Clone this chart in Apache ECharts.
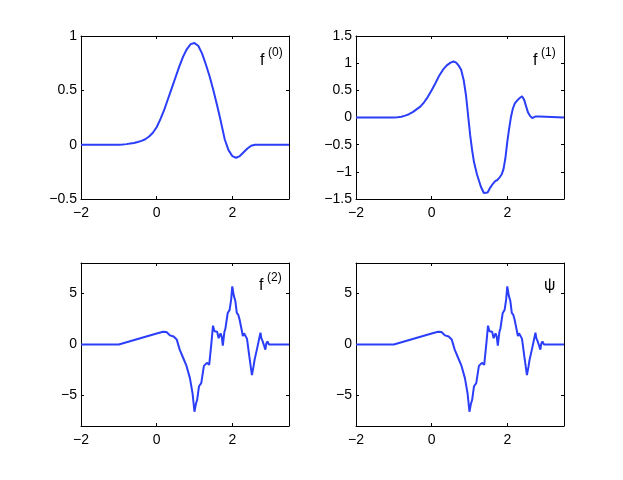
<!DOCTYPE html>
<html>
<head>
<meta charset="utf-8">
<title>f(0), f(1), f(2), psi</title>
<script src="https://cdn.jsdelivr.net/npm/echarts@6/dist/echarts.min.js"></script>
<style>
  html, body { margin: 0; padding: 0; background: #fff; }
  #chart { width: 623px; height: 480px; }
</style>
</head>
<body>
<div id="chart"></div>
<script>
// tick values of every panel
const xTicks = [-2, 0, 2]
const f0Ticks = [-0.5, 0, 0.5, 1]
const f1Ticks = [-1.5, -1, -0.5, 0, 0.5, 1, 1.5]
const f2Ticks = [-5, 0, 5]

// f(0): sampled every 0.1 from -2 to 3.5
const f0X = [
  -2.0, -1.9, -1.8, -1.7, -1.6, -1.5, -1.4, -1.3, -1.2, -1.1, -1.0,
  -0.9, -0.8, -0.7, -0.6, -0.5, -0.4, -0.3, -0.2, -0.1, 0.0,
  0.1, 0.2, 0.3, 0.4, 0.5, 0.6, 0.7, 0.8, 0.9, 1.0,
  1.1, 1.2, 1.3, 1.4, 1.5, 1.6, 1.7, 1.8, 1.9, 2.0,
  2.1, 2.2, 2.3, 2.4, 2.5, 2.6, 2.7, 2.8, 2.9, 3.0,
  3.1, 3.2, 3.3, 3.4, 3.5
]
const f0Y = [
  0, 0, 0, 0, 0, 0, 0, 0, 0, 0, 0,
  0.002, 0.005, 0.01, 0.016, 0.025, 0.035, 0.05, 0.075, 0.11, 0.16,
  0.235, 0.32, 0.42, 0.52, 0.62, 0.72, 0.81, 0.88, 0.925, 0.935,
  0.91, 0.84, 0.74, 0.63, 0.5, 0.36, 0.21, 0.05, -0.05, -0.105,
  -0.12, -0.105, -0.07, -0.035, -0.01, 0, 0, 0, 0, 0,
  0, 0, 0, 0, 0
]

// f(1)
const f1X = [
  -2.0, -1.0, -0.9, -0.8, -0.7, -0.6, -0.5, -0.4, -0.3, -0.2, -0.1, 0.0,
  0.1, 0.2, 0.3, 0.4, 0.5, 0.58, 0.65, 0.72, 0.78, 0.85, 0.91, 0.97,
  1.02, 1.07, 1.12, 1.2, 1.3, 1.38, 1.43, 1.48, 1.55, 1.62, 1.68, 1.74,
  1.8, 1.85, 1.9, 1.95, 2.0, 2.05, 2.1, 2.15, 2.2, 2.27, 2.33, 2.39,
  2.45, 2.5, 2.55, 2.6, 2.66, 2.7, 2.75, 2.8, 2.85, 2.9, 3.5
]
const f1Y = [
  0, 0, 0.005, 0.015, 0.035, 0.06, 0.1, 0.15, 0.2, 0.28, 0.38, 0.5,
  0.63, 0.77, 0.88, 0.96, 1.01, 1.03, 1.01, 0.95, 0.88, 0.68, 0.4, 0.0,
  -0.33, -0.6, -0.82, -1.05, -1.27, -1.39, -1.42, -1.38, -1.29, -1.22, -1.17, -1.15,
  -1.1, -1.05, -0.95, -0.75, -0.45, -0.2, 0.02, 0.17, 0.26, 0.32, 0.36, 0.39,
  0.32, 0.2, 0.09, 0.03, -0.01, -0.01, 0.02, 0.03, 0.02, 0, 0
]

// f(2); the psi panel shows the same curve
const f2X = [
  -2.0, -1.0, -0.5, 0.0, 0.17, 0.26, 0.35, 0.45, 0.53, 0.61, 0.7, 0.79,
  0.88, 0.95, 1.0, 1.04, 1.07, 1.12, 1.15, 1.18, 1.25, 1.29, 1.33, 1.36,
  1.39, 1.45, 1.49, 1.53, 1.56, 1.6, 1.64, 1.69, 1.72, 1.75, 1.79, 1.82,
  1.86, 1.88, 1.93, 1.97, 2.0, 2.04, 2.08, 2.12, 2.16, 2.19, 2.24, 2.28,
  2.31, 2.34, 2.39, 2.45, 2.52, 2.56, 2.59, 2.65, 2.69, 2.745, 2.77, 2.8,
  2.84, 2.875, 2.9, 2.93, 2.97, 3.5
]
const f2Y = [
  0, 0, 0.54, 1.08, 1.25, 1.22, 0.9, 0.78, 0.5, -0.5, -1.3, -2.1,
  -3.3, -4.8, -6.6, -5.8, -5.45, -4.1, -4.0, -3.8, -2.1, -2.2, -1.8, -1.7,
  -2.0, 0.2, 1.85, 1.3, 1.15, 1.25, 0.62, 1.1, 0.8, -0.1, 1.2, 1.6,
  2.6, 3.1, 3.4, 4.4, 5.7, 4.8, 4.3, 3.1, 2.9, 2.5, 1.6, 0.83,
  1.1, 0.9, 0.55, -1.15, -3.0, -2.2, -1.5, -0.5, -0.6, 1.15, 0.6, 0.35,
  -0.1, -0.5, 0.1, 0.3, 0, 0
]

const fontFamily = '"Liberation Sans", Arial, Helvetica, sans-serif'
const lineColor = '#2b3ef8'

// panel boxes (pixels) as a MATLAB 2x2 subplot
const panels = [
  { left: 81, top: 36, yMin: -0.5, yMax: 1, yTicks: f0Ticks, xs: f0X, ys: f0Y },
  { left: 356, top: 36, yMin: -1.5, yMax: 1.5, yTicks: f1Ticks, xs: f1X, ys: f1Y },
  { left: 81, top: 263, yMin: -8, yMax: 8, yTicks: f2Ticks, xs: f2X, ys: f2Y },
  { left: 356, top: 263, yMin: -8, yMax: 8, yTicks: f2Ticks, xs: f2X, ys: f2Y }
]

const fmt = v => String(v).replace('-', '\u2212')

const axisBase = (ticks, labelShow) => ({
  type: 'value',
  axisLine: { onZero: false, lineStyle: { color: '#000', width: 1 } },
  axisTick: { inside: true, length: 3, customValues: ticks, lineStyle: { color: '#000' } },
  axisLabel: {
    show: labelShow,
    customValues: ticks,
    formatter: fmt,
    color: '#000',
    fontSize: 14,
    fontFamily: fontFamily
  },
  splitLine: { show: false }
})

const grid = []
const xAxis = []
const yAxis = []
const series = []

panels.forEach((p, i) => {
  grid.push({ left: p.left, top: p.top, width: 208, height: 163 })
  xAxis.push(Object.assign(axisBase(xTicks, true), { gridIndex: i, position: 'bottom', min: -2, max: 3.5 }))
  xAxis[xAxis.length - 1].axisLabel.margin = 7
  xAxis.push(Object.assign(axisBase(xTicks, false), { gridIndex: i, position: 'top', min: -2, max: 3.5 }))
  yAxis.push(Object.assign(axisBase(p.yTicks, true), { gridIndex: i, position: 'left', min: p.yMin, max: p.yMax }))
  yAxis[yAxis.length - 1].axisLabel.margin = 4
  yAxis.push(Object.assign(axisBase(p.yTicks, false), { gridIndex: i, position: 'right', min: p.yMin, max: p.yMax }))
  series.push({
    type: 'line',
    xAxisIndex: i * 2,
    yAxisIndex: i * 2,
    data: p.xs.map((x, k) => [x, p.ys[k]]),
    showSymbol: false,
    lineStyle: { color: lineColor, width: 2 },
    emphasis: { disabled: true }
  })
})

// panel titles with superscripts
const label = (text, x, y, size) => ({
  type: 'text',
  x: x,
  y: y,
  style: { text: text, fill: '#000', font: size + 'px ' + fontFamily, verticalAlign: 'middle' }
})

const graphic = [
  label('f', 260, 61, 16), label('(0)', 268, 53, 12),
  label('f', 533, 61, 16), label('(1)', 541, 53, 12),
  label('f', 259, 286, 16), label('(2)', 267, 278, 12),
  label('\u03c8', 544, 286, 16)
]

const chart = echarts.init(document.getElementById('chart'))
chart.setOption({
  animation: false,
  backgroundColor: '#fff',
  grid: grid,
  xAxis: xAxis,
  yAxis: yAxis,
  series: series,
  graphic: graphic
})
</script>
</body>
</html>
